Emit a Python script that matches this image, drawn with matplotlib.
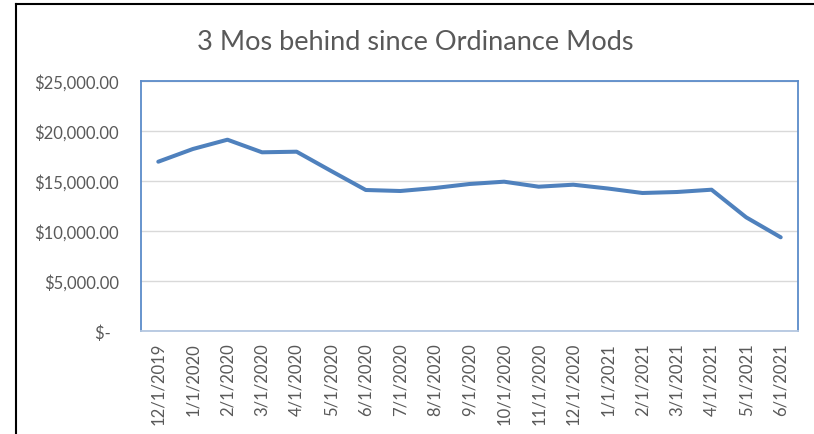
import matplotlib
matplotlib.use("Agg")
import matplotlib.pyplot as plt
from matplotlib.lines import Line2D

plt.rcParams['font.family'] = ['Lato', 'DejaVu Sans']

months = ['12/1/2019', '1/1/2020', '2/1/2020', '3/1/2020', '4/1/2020', '5/1/2020',
          '6/1/2020', '7/1/2020', '8/1/2020', '9/1/2020', '10/1/2020', '11/1/2020',
          '12/1/2020', '1/1/2021', '2/1/2021', '3/1/2021', '4/1/2021', '5/1/2021',
          '6/1/2021']
amounts = [16930, 18200, 19130, 17870, 17930, 16000, 14100, 14000, 14300, 14700,
           14930, 14430, 14630, 14250, 13800, 13900, 14130, 11370, 9370]
y_ticks = [0, 5000, 10000, 15000, 20000, 25000]


def money(v):
    if v == 0:
        return '$-  '
    return f'${v:,.2f}'


fig = plt.figure(figsize=(8.14, 4.35), dpi=100)
ax = fig.add_axes([141 / 814, 103 / 435, 657 / 814, 250 / 435])

x = range(len(months))
ax.plot(x, amounts, color='#4F81BD', linewidth=2.9, solid_capstyle='round')

ax.set_xlim(-0.5, len(months) - 0.5)
ax.set_ylim(0, 25000)
ax.set_xticks(list(x))
ax.set_xticklabels(months, rotation=90, fontsize=12, color='#595959')
ax.set_yticks(y_ticks)
ax.set_yticklabels([money(v) for v in y_ticks], fontsize=12, color='#595959')
ax.tick_params(length=0, pad=8)
ax.tick_params(axis='y', pad=16)
ax.grid(axis='y', color='#D9D9D9', linewidth=1)
ax.set_axisbelow(True)

for side in ['left', 'right', 'top']:
    ax.spines[side].set_color('#5B8BC9')
    ax.spines[side].set_linewidth(1.3)
ax.spines['bottom'].set_color('#B4C7E0')
ax.spines['bottom'].set_linewidth(1.3)

fig.text(415 / 814, 1 - 42 / 435, '3 Mos behind since Ordinance Mods',
         ha='center', va='center', fontsize=19.5, color='#595959')

# chart frame (only left and top edges show)
fig.add_artist(Line2D([16 / 814, 16 / 814], [0, 1 - 5 / 435], color='black', linewidth=1.5))
fig.add_artist(Line2D([16 / 814, 1], [1 - 5 / 435, 1 - 5 / 435], color='black', linewidth=1.5))

fig.savefig('out.png', dpi=100)
